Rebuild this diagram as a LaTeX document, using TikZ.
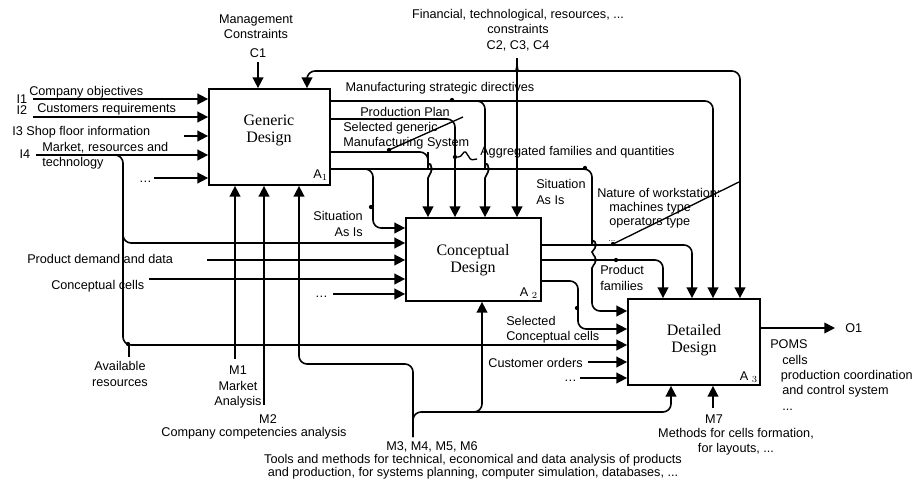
\documentclass[tikz,border=0pt]{standalone}
\usepackage{fontspec}
\setmainfont{Liberation Sans}
\newfontfamily\boxfont{Liberation Serif}
\usetikzlibrary{arrows.meta}

\tikzset{
	flow/.style={line width=1.2pt, rounded corners=6pt},
	arr/.style={flow, -{Triangle[length=8pt,width=8pt]}},
	actbox/.style={draw, line width=1.3pt, inner sep=0pt},
	lbl/.style={font=\fontsize{9.5}{11.5}\selectfont, inner sep=0pt},
	ttl/.style={font=\boxfont\fontsize{12}{12.8}\selectfont, align=center, inner sep=0pt}
}

\begin{document}
\begin{tikzpicture}[x=0.75pt, y=-0.75pt]
	\useasboundingbox (0,0) rectangle (914,482);
	% activities
	\node[actbox, minimum width=90.75pt, minimum height=72pt] (gen) at (269.5,137) {};
	\node[actbox, minimum width=101.25pt, minimum height=62.25pt] (con) at (473.5,259.5) {};
	\node[actbox, minimum width=99pt, minimum height=64.5pt] (det) at (694,342) {};
	\node[ttl] (genT) at (269,130) {Generic\\Design};
	\node[ttl] (conT) at (473,260) {Conceptual\\Design};
	\node[ttl] (detT) at (694,340) {Detailed\\Design};
	\node[lbl, anchor=east] (genN) at (328,175) {A$_1$};
	\node[lbl, anchor=east] (conN) at (538,293) {A\;$_2$};
	\node[lbl, anchor=east] (detN) at (758,377) {A\;$_3$};

	% free ends
	\coordinate (i1) at (33,99);
	\coordinate (i2) at (33,117);
	\coordinate (i3) at (184,136);
	\coordinate (i4) at (36,155);
	\coordinate (i5) at (154,178);
	\coordinate (c1) at (258,62);
	\coordinate (c2) at (517,58);
	\coordinate (m1) at (235,359);
	\coordinate (m2) at (264,405);
	\coordinate (m3) at (413,437);
	\coordinate (m7) at (713,408);
	\coordinate (pd) at (207,260);
	\coordinate (cc) at (149,279);
	\coordinate (d2) at (333,294);
	\coordinate (co) at (588,362);
	\coordinate (d3) at (580,378);
	\coordinate (o1) at (835,328);
	\coordinate (ar) at (129,357);

	% inputs of A1
	\draw[arr] (i1) -- (gen.west |- i1);
	\draw[arr] (i2) -- (gen.west |- i2);
	\draw[arr] (i3) -- (gen.west |- i3);
	\draw[arr] (i4) -- (gen.west |- i4);
	\draw[arr] (i5) -- (gen.west |- i5);
	\draw[arr] (110,155) -- (123,155) -- (123,345) -- (det.west |- 0,345);
	\draw[arr] (123,230) -- (123,243) -- (con.west |- 0,243);
	\draw[flow] (ar) -- (129,345);
	\fill (128,344) circle (1.6pt);

	% controls
	\draw[arr] (c1) -- (gen.north -| c1);
	\draw[arr] (c2) -- (con.north -| c2);
	\draw[arr] (517,64) .. controls (517,69) and (515,71) .. (509,71) -- (307,71) -- (gen.north -| 307,0);
	\draw[arr] (517,64) .. controls (517,69) and (519,71) .. (525,71) -- (740,71) -- (det.north -| 740,0);

	% outputs of A1
	\draw[arr] (gen.east |- 0,101) -- (713,101) -- (det.north -| 713,0);
	\draw[arr] (470,101) -- (485,101) -- (485,160) [sharp corners] .. controls (485,163) and (488,163) .. (488,166) .. controls (488,168) .. (490,169) .. controls (488,170) .. (488,172) .. controls (488,175) and (485,175) .. (485,178) [rounded corners=6pt] -- (con.north -| 485,0);
	\fill (452,100) circle (1.6pt);
	\draw[arr] (gen.east |- 0,119) -- (455,119) -- (con.north -| 455,0);
	\draw[arr] (gen.east |- 0,152) -- (428,152) -- (428,160) [sharp corners] .. controls (428,163) and (431,163) .. (431,166) .. controls (431,168) .. (433,169) .. controls (431,170) .. (431,172) .. controls (431,175) and (428,175) .. (428,178) [rounded corners=6pt] -- (con.north -| 428,0);
	\fill (389,150) circle (1.6pt);
	\draw[line width=1pt] (389,150) -- (463,117);
	\fill (455,157) circle (1.6pt);
	\draw[line width=1pt, rounded corners=1pt] (455,157) -- (460,157) -- (465,151) -- (471,160) -- (477,159);
	\draw[arr] (gen.east |- 0,169) -- (592,169) -- (592,237) [sharp corners] .. controls (592,240) and (595,240) .. (595,242) .. controls (595,244) .. (597,245) .. controls (595,246) .. (595,248) .. controls (595,250) and (592,250) .. (592,252) .. controls (592,255) and (595,255) .. (595,257) .. controls (595,259) .. (597,260) .. controls (595,261) .. (595,263) .. controls (595,265) and (592,265) .. (592,268) [rounded corners=6pt] -- (592,311) -- (det.west |- 0,311);
	\fill (585,168) circle (1.6pt);
	\draw[arr] (360,169) -- (373,169) -- (373,228) -- (con.west |- 0,228);
	\fill (371,207) circle (1.6pt);

	% mechanisms
	\draw[arr] (m1) -- (gen.south -| m1);
	\draw[arr] (m2) -- (gen.south -| m2);
	\draw[arr] (m3) -- (413,364) -- (299,364) -- (gen.south -| 299,0);
	\draw[arr] (m3) -- (413,412) -- (671,412) -- (det.south -| 671,0);
	\draw[arr] (470,412) -- (482,412) -- (con.south -| 482,0);
	\draw[arr] (m7) -- (det.south -| m7);

	% inputs of A2
	\draw[arr] (pd) -- (con.west |- pd);
	\draw[arr] (cc) -- (con.west |- cc);
	\draw[arr] (d2) -- (con.west |- d2);

	% outputs of A2
	\draw[arr] (con.east |- 0,245) -- (692,245) -- (det.north -| 692,0);
	\fill (613,244) circle (1.6pt);
	\draw[line width=1pt] (613,244) -- (739,182);
	\draw[arr] (con.east |- 0,260) -- (663,260) -- (det.north -| 663,0);
	\fill (616,260) circle (1.6pt);
	\draw[arr] (con.east |- 0,281) -- (578,281) -- (578,329) -- (det.west |- 0,329);
	\fill (577,308) circle (1.6pt);

	% inputs and output of A3
	\draw[arr] (co) -- (det.west |- co);
	\draw[arr] (d3) -- (det.west |- d3);
	\draw[arr] (det.east |- o1) -- (o1);

	% labels
	\node[lbl, align=center] (mgmt) at (256,27) {Management\\Constraints};
	\node[lbl] (c1l) at (258,53) {C1};
	\node[lbl, align=center] (fin) at (518,30) {Financial, technological, resources, ...\\constraints\\C2, C3, C4};
	\node[lbl] (i1l) at (22,99) {I1};
	\node[lbl] (i2l) at (22,110) {I2};
	\node[lbl, anchor=west] (i1t) at (29,92) {Company objectives};
	\node[lbl, anchor=west] (i2t) at (37,109) {Customers requirements};
	\node[lbl, anchor=west] (i3t) at (12,132) {I3 Shop floor information};
	\node[lbl] (i4l) at (25,154) {I4};
	\node[lbl, anchor=west, align=left] (i4t) at (42,155.5) {Market, resources and\\technology};
	\node[lbl, anchor=base east] (i5t) at (152,182) {\ldots};
	\node[lbl] (msd) at (440,88) {Manufacturing strategic directives};
	\node[lbl] (pp) at (405,112) {Production Plan};
	\node[lbl, anchor=west, align=left] (sgm) at (343,136) {Selected generic\\Manufacturing System};
	\node[lbl, anchor=west] (agg) at (480,152) {Aggregated families and quantities};
	\node[lbl, anchor=west, align=left] (sai1) at (536,192) {Situation\\As Is};
	\node[lbl, anchor=east, align=right] (sai2) at (363,224) {Situation\\As Is};
	\node[lbl, anchor=west, align=left] (nat) at (597,208) {Nature of workstation:\\[-1pt]\hspace*{9pt}machines type\\[-1pt]\hspace*{9pt}operators type};
	\node[lbl, font=\fontsize{6}{6}\selectfont, anchor=base] (pdots) at (612,241) {...};
	\node[lbl, anchor=west, align=left] (pf) at (600,278) {Product\\families};
	\node[lbl, anchor=west, align=left] (scc) at (506,330) {Selected\\Conceptual cells};
	\node[lbl, anchor=east] (cot) at (583,363) {Customer orders};
	\node[lbl, anchor=base east] (d3t) at (577,381) {\ldots};
	\node[lbl, anchor=west] (pdt) at (27,259) {Product demand and data};
	\node[lbl, anchor=west] (cct) at (51,286) {Conceptual cells};
	\node[lbl, anchor=base east] (d2t) at (328,297) {\ldots};
	\node[lbl, align=center] (art) at (120,374) {Available\\resources};
	\node[lbl, align=center] (m1t) at (238,387) {M1\\Market\\Analysis};
	\node[lbl] (m2l) at (268,419) {M2};
	\node[lbl] (m2t) at (254,433) {Company competencies analysis};
	\node[lbl] (m3l) at (432,447) {M3, M4, M5, M6};
	\node[lbl, align=center, font=\fontsize{9.5}{9.75}\selectfont] (m3t) at (473,466.5) {Tools and methods for technical, economical and data analysis of products\\and production, for systems planning, computer simulation, databases, ...};
	\node[lbl] (m7l) at (714,419) {M7};
	\node[lbl, align=center] (m7t) at (736,442) {Methods for cells formation,\\for layouts, ...};
	\node[lbl, anchor=west] (o1t) at (845,328) {O1};
	\node[lbl, anchor=west, align=left] (poms) at (770,375) {POMS\\\hspace*{9pt}cells\\\hspace*{8pt}production coordination\\\hspace*{9pt}and control system\\\hspace*{9pt}...};
\end{tikzpicture}
\end{document}
